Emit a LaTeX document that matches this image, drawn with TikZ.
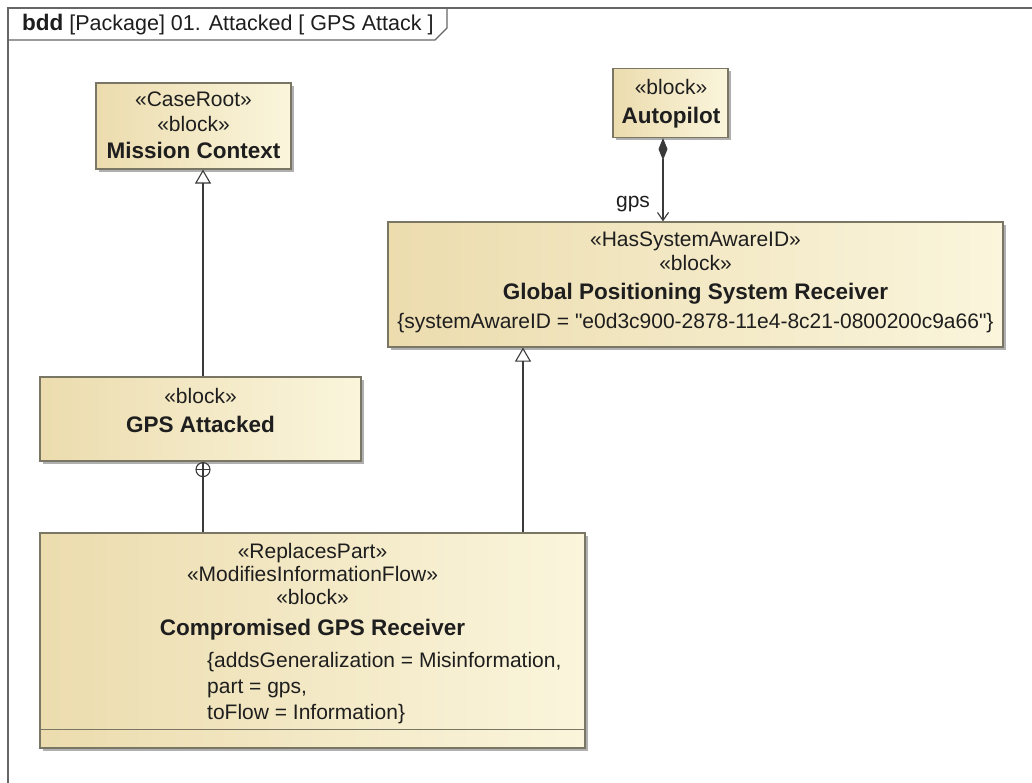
\documentclass[tikz,border=0pt]{standalone}
\usepackage{fontspec}
\setmainfont{Liberation Sans}[Ligatures=TeXOff]
\usetikzlibrary{shadows,arrows.meta,calc}

\definecolor{blkL}{HTML}{ECDCAE}
\definecolor{blkR}{HTML}{FAF5DC}
\definecolor{edgecol}{HTML}{7A7664}
\definecolor{ink}{HTML}{1E1E1E}
\definecolor{framecol}{HTML}{666666}
\definecolor{wire}{HTML}{3A3A3A}
\definecolor{shadecol}{HTML}{A8A8A8}

\tikzset{
  blockbox/.style={draw=edgecol, line width=1.2pt, left color=blkL, right color=blkR,
    drop shadow={shadow xshift=3pt, shadow yshift=-3pt, fill=shadecol, opacity=0.9},
    inner sep=0pt},
  stereo/.style={font=\fontsize{21}{25}\selectfont, text=ink, inner sep=0pt, anchor=base},
  bname/.style={font=\bfseries\fontsize{22.5}{27}\selectfont, text=ink, inner sep=0pt, anchor=base},
  prop/.style={font=\fontsize{21}{25}\selectfont, text=ink, inner sep=0pt, anchor=base west},
  wireline/.style={draw=wire, line width=1.1pt},
  genarrow/.style={-{Triangle[open, length=14pt, width=16pt, line width=1.1pt]}},
}

\begin{document}
\begin{tikzpicture}[x=1pt, y=-1pt]
\useasboundingbox (0,0) rectangle (1032,783);
\fill[white] (0,0) rectangle (1032,783);

% diagram frame and its name tab
\begin{scope}
\clip (0,0) rectangle (1032,783);
\draw[framecol, line width=1.6pt] (8,800) -- (8,8) -- (1050,8);
\end{scope}
\draw[framecol, line width=1.1pt] (8,40) -- (435,40) -- (447,28) -- (447,8);
\node[anchor=base west, inner sep=0pt, text=ink, font=\fontsize{21.5}{25}\selectfont] (title) at (22,31)
  {{\bfseries\fontsize{22.5}{27}\selectfont bdd} [Package] 01. Attacked [ GPS Attack ]};

% blocks
\node[blockbox, minimum width=195pt, minimum height=86pt] (mc) at (193.5,126) {};
\node[stereo] (mc1) at (193.5,107) {«CaseRoot»};
\node[stereo] (mc2) at (193.5,132) {«block»};
\node[bname]  (mc3) at (193.5,159) {Mission Context};

\node[blockbox, minimum width=115pt, minimum height=69pt] (ap) at (670.5,103) {};
\node[stereo] (ap1) at (671,95) {«block»};
\node[bname]  (ap2) at (671,124) {Autopilot};

\node[blockbox, minimum width=615pt, minimum height=125pt] (gr) at (695.5,284.5) {};
\node[stereo] (gr1) at (695.5,247) {«HasSystemAwareID»};
\node[stereo] (gr2) at (695.5,271) {«block»};
\node[bname]  (gr3) at (695.5,299) {Global Positioning System Receiver};
\node[stereo] (gr4) at (695.5,328) {\{systemAwareID = "e0d3c900-2878-11e4-8c21-0800200c9a66"\}};

\node[blockbox, minimum width=321pt, minimum height=84pt] (ga) at (200.5,419) {};
\node[stereo] (ga1) at (200.5,403) {«block»};
\node[bname]  (ga2) at (200.5,432) {GPS Attacked};

\node[blockbox, minimum width=545pt, minimum height=215pt] (cg) at (312.5,640.5) {};
\node[stereo] (cg1) at (312.5,558) {«ReplacesPart»};
\node[stereo] (cg2) at (312.5,581) {«ModifiesInformationFlow»};
\node[stereo] (cg3) at (312.5,604) {«block»};
\node[bname]  (cg4) at (312.5,635) {Compromised GPS Receiver};
\node[prop]   (cg5) at (207,667) {\{addsGeneralization = Misinformation,};
\node[prop]   (cg6) at (207,693) {part = gps,};
\node[prop]   (cg7) at (207,719) {toFlow = Information\}};
% empty operations compartment
\draw[edgecol, line width=1.2pt] ($(cg.south west)+(0,-19)$) -- ($(cg.south east)+(0,-19)$);

% connector columns
\coordinate (xa) at (203,0);
\coordinate (xb) at (523,0);
\coordinate (xc) at (663,0);

% generalization GPS Attacked -> Mission Context
\draw[wireline, genarrow] (ga.north -| xa) -- (mc.south -| xa);

% containment GPS Attacked (+)-- Compromised GPS Receiver
\coordinate (nc) at ($(ga.south -| xa)+(0,8)$);
\draw[wireline] (nc) circle (7pt);
\draw[wireline] ($(nc)+(-7,0)$) -- ($(nc)+(7,0)$);
\draw[wireline] (ga.south -| xa) -- (cg.north -| xa);

% generalization Compromised GPS Receiver -> Global Positioning System Receiver
\draw[wireline, genarrow] (cg.north -| xb) -- (gr.south -| xb);

% composition Autopilot -> gps
\draw[wireline, {Diamond[length=22pt, width=9pt, fill=wire]}-{Straight Barb[length=8pt, width=11pt]}]
  (ap.south -| xc) -- (gr.north -| xc);
\node[anchor=base, inner sep=0pt, text=ink, font=\fontsize{21}{25}\selectfont] (gpslbl) at (633,208) {gps};
\end{tikzpicture}
\end{document}
